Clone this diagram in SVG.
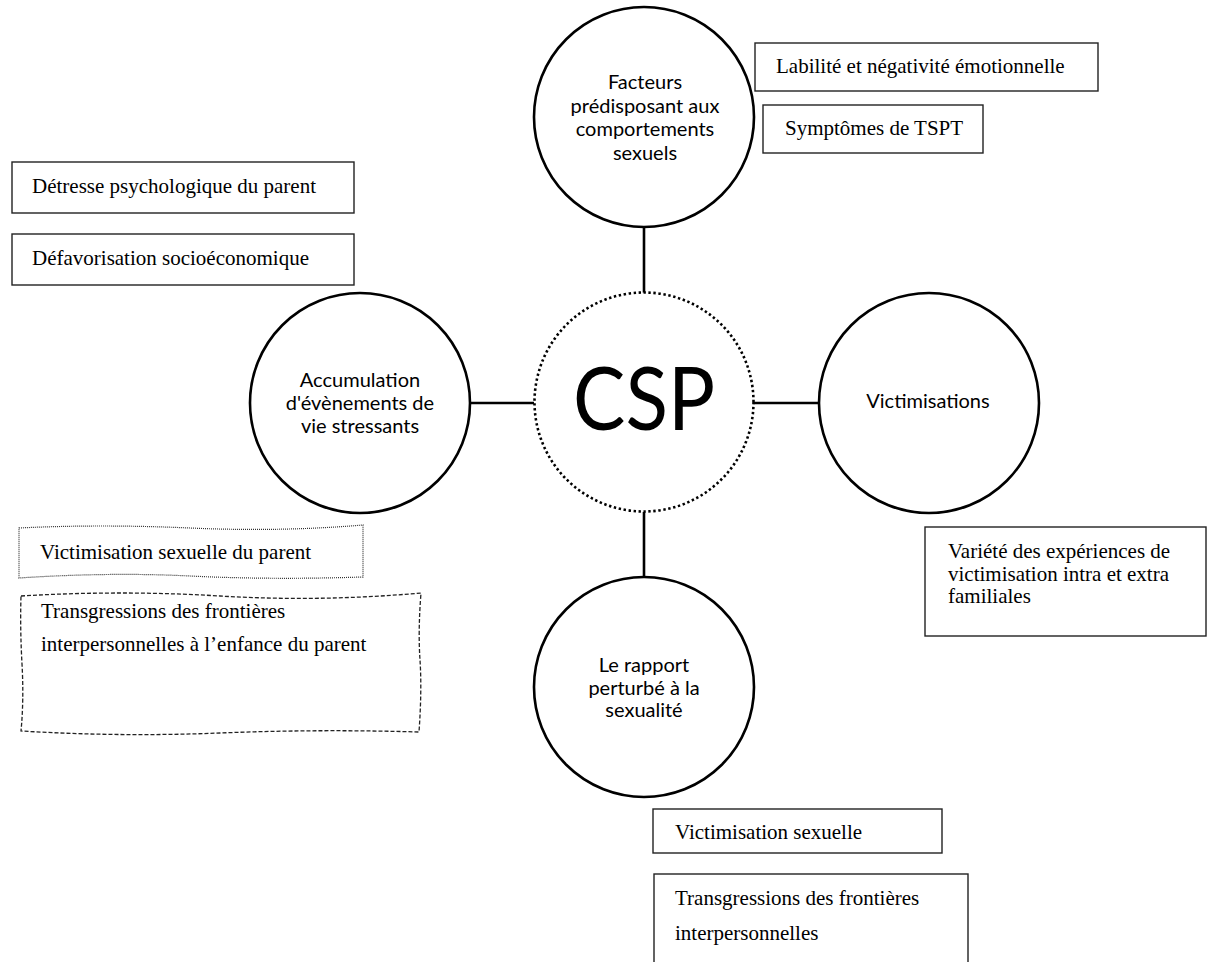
<svg xmlns="http://www.w3.org/2000/svg" width="1207" height="962" viewBox="0 0 1207 962">
<style>
  .circ { fill: #fff; stroke: #000; stroke-width: 2.6; }
  .csp { fill: #fff; stroke: #000; stroke-width: 2.6; stroke-dasharray: 2.4 2.6; }
  .conn { stroke: #000; stroke-width: 2.6; fill: none; }
  .box { fill: #fff; stroke: #222; stroke-width: 1.4; }
  .sans { font-family: Lato, "Open Sans", "Liberation Sans", sans-serif; font-size: 20px; fill: #000; text-anchor: middle; }
  .serif { font-family: "Liberation Serif", "Times New Roman", serif; font-size: 21px; fill: #000; }
</style>
<rect width="1207" height="962" fill="#fff"/>
<g id="connectors">
  <line class="conn" x1="644" y1="227" x2="644" y2="293"/>
  <line class="conn" x1="470" y1="403" x2="534" y2="403"/>
  <line class="conn" x1="753" y1="403" x2="819" y2="403"/>
  <line class="conn" x1="644" y1="512" x2="644" y2="577"/>
</g>
<g id="node-csp">
  <circle class="csp" cx="644" cy="402" r="109.5"/>
  <text x="644" y="430" class="sans" style="font-size:87px" textLength="142" lengthAdjust="spacingAndGlyphs">CSP</text>
</g>
<g id="node-facteurs">
  <circle class="circ" cx="644" cy="117" r="110"/>
  <text class="sans" x="645" y="89">Facteurs</text>
  <text class="sans" x="645" y="113">prédisposant aux</text>
  <text class="sans" x="645" y="136">comportements</text>
  <text class="sans" x="645" y="160">sexuels</text>
</g>
<g id="node-accumulation">
  <circle class="circ" cx="360" cy="403" r="110"/>
  <text class="sans" x="360" y="387">Accumulation</text>
  <text class="sans" x="360" y="410">d'évènements  de</text>
  <text class="sans" x="360" y="433">vie stressants</text>
</g>
<g id="node-victimisations">
  <circle class="circ" cx="929" cy="403" r="110"/>
  <text class="sans" x="928" y="408">Victimisations</text>
</g>
<g id="node-rapport">
  <circle class="circ" cx="644" cy="687" r="110"/>
  <text class="sans" x="644" y="672">Le rapport</text>
  <text class="sans" x="644" y="695">perturbé à la</text>
  <text class="sans" x="644" y="717">sexualité</text>
</g>
<g id="box-labilite">
  <rect class="box" x="755" y="43" width="343" height="48"/>
  <text class="serif" x="776" y="73">Labilité et négativité émotionnelle</text>
</g>
<g id="box-tspt">
  <rect class="box" x="763" y="105" width="220" height="48"/>
  <text class="serif" x="785" y="135">Symptômes de TSPT</text>
</g>
<g id="box-detresse">
  <rect class="box" x="12" y="162" width="342" height="51"/>
  <text class="serif" x="32" y="193">Détresse psychologique du parent</text>
</g>
<g id="box-defavorisation">
  <rect class="box" x="12" y="234" width="342" height="51"/>
  <text class="serif" x="32" y="265">Défavorisation socioéconomique</text>
</g>
<g id="box-victimisation-parent">
  <path d="M19,528 Q100,524 190,528 T363,525 L363,577 Q270,580 190,576 T19,578 Z" fill="#fff" stroke="#333" stroke-width="1.2" stroke-dasharray="1 1"/>
  <text class="serif" x="40" y="559">Victimisation sexuelle du parent</text>
</g>
<g id="box-transgressions-parent">
  <path d="M21,596 Q120,590 220,596 T421,593 Q418,630 420,660 T419,732 Q320,729 220,733 T21,731 Q24,700 22,664 T21,596 Z" fill="#fff" stroke="#222" stroke-width="1.3" stroke-dasharray="4 2"/>
  <text class="serif" x="41" y="618">Transgressions des frontières</text>
  <text class="serif" x="41" y="651">interpersonnelles à l’enfance du parent</text>
</g>
<g id="box-variete">
  <rect class="box" x="925" y="527" width="281" height="109"/>
  <text class="serif" x="948" y="558">Variété des expériences de</text>
  <text class="serif" x="948" y="581">victimisation intra et extra</text>
  <text class="serif" x="948" y="603">familiales</text>
</g>
<g id="box-victimisation-sexuelle">
  <rect class="box" x="653" y="809" width="289" height="44"/>
  <text class="serif" x="675" y="839">Victimisation sexuelle</text>
</g>
<g id="box-transgressions">
  <rect class="box" x="654" y="874" width="314" height="100"/>
  <text class="serif" x="675" y="905">Transgressions des frontières</text>
  <text class="serif" x="675" y="940">interpersonnelles</text>
</g>
</svg>
